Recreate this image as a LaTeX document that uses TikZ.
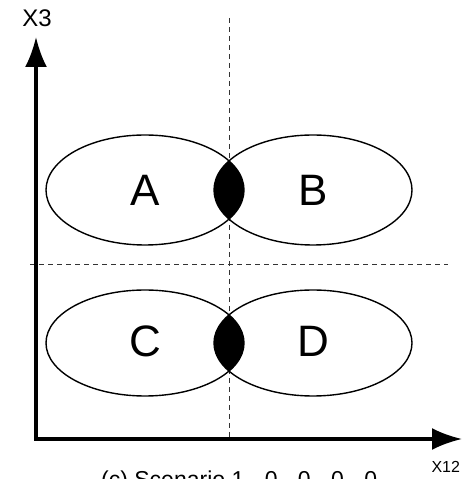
\documentclass[tikz,border=0pt]{standalone}
\usepackage{fontspec}
\setmainfont{Liberation Sans}
\usepackage{xcolor}
\usetikzlibrary{arrows.meta}

\begin{document}
\begin{tikzpicture}[x=1pt,y=1pt,
  axis/.style={line width=3.2pt,-{Latex[length=30pt,width=22pt]}},
  guide/.style={line width=0.8pt,dash pattern=on 5pt off 4pt,black!80},
  blob/.style={line width=1.4pt},
  region/.style={font=\fontsize{44}{44}\selectfont},
  axlabel/.style={font=\fontsize{24}{24}\selectfont}]

% ============================================================
% parameters
% ============================================================

\def\Rx{99}      % half width of one region
\def\Ry{55}      % half height of one region
\def\Mid{229}    % x of the vertical split

\useasboundingbox (0,0) rectangle (462,479);

% ============================================================
% guides
% ============================================================

\coordinate (vtop) at (\Mid,461);
\coordinate (vbot) at (\Mid,39);
\coordinate (hl) at (30,215);
\coordinate (hr) at (448,215);
\draw[guide] (vtop) -- (vbot);
\draw[guide] (hl) -- (hr);

% ============================================================
% regions (upper pair, lower pair)
% ============================================================

\foreach \cy/\ry in {289/\Ry,136/53} {
  \begin{scope}
    \clip (\Mid-84,\cy) ellipse ({\Rx} and {\ry});
    \fill[black] (\Mid+84,\cy) ellipse ({\Rx} and {\ry});
  \end{scope}
  \draw[blob] (\Mid-84,\cy) ellipse ({\Rx} and {\ry});
  \draw[blob] (\Mid+84,\cy) ellipse ({\Rx} and {\ry});
}

\node[region] (A) at (145,289) {A};
\node[region] (B) at (313,289) {B};
\node[region] (C) at (145,138) {C};
\node[region] (D) at (313,138) {D};

% ============================================================
% axes
% ============================================================

\coordinate (O) at (36,40);
\coordinate (ytip) at (36,442);
\coordinate (xtip) at (462,40);
\draw[axis] ([yshift=-1.6pt]O) -- (ytip);
\draw[axis] ([xshift=-1.6pt]O) -- (xtip);

\node[axlabel] (x3) at (37,461) {X3};
\node[axlabel,anchor=west,font=\fontsize{16}{16}\selectfont] (x12) at (428,12) {X12};

% caption, cut by the page edge as in the source
\node[anchor=north west,inner sep=0pt,font=\fontsize{23}{23}\selectfont] (cap) at (101,8) {(c) Scenario 1 - 0 - 0 - 0 - 0};

\end{tikzpicture}
\end{document}
